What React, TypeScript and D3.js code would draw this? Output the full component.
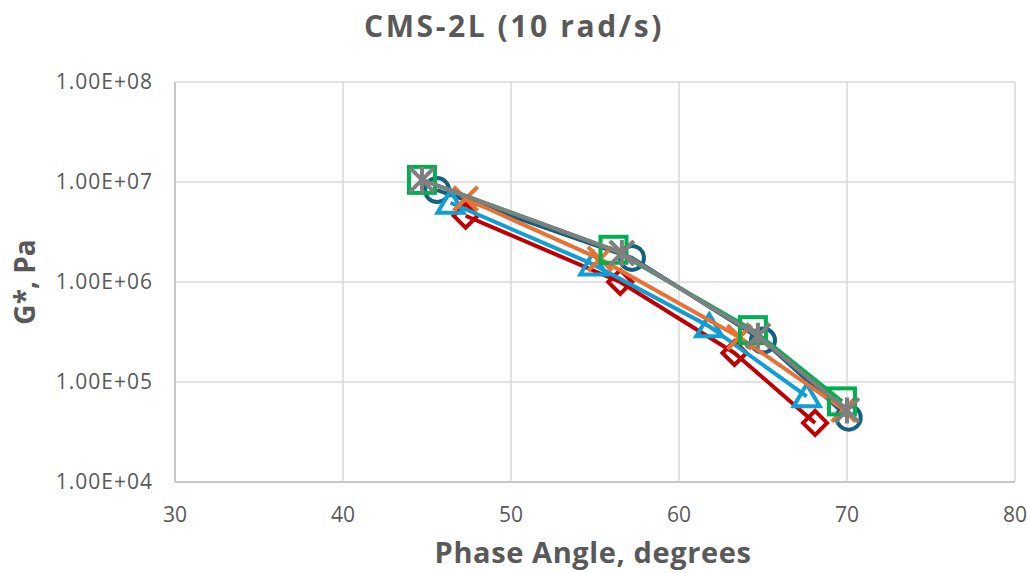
import React from "react";
import * as d3 from "d3";

const xTicks = [30, 40, 50, 60, 70, 80];
const yTicks = [1e4, 1e5, 1e6, 1e7, 1e8];
const yTickLabels = ["1.00E+04", "1.00E+05", "1.00E+06", "1.00E+07", "1.00E+08"];

const circleX = [45.6, 57.2, 65.0, 70.1];
const circleY = [8.3e6, 1.74e6, 2.6e5, 4.4e4];
const diamondX = [47.3, 56.5, 63.3, 68.1];
const diamondY = [4.6e6, 1.0e6, 1.95e5, 3.9e4];
const triangleX = [46.4, 54.9, 61.8, 67.6];
const triangleY = [6.2e6, 1.5e6, 3.6e5, 7.2e4];
const crossX = [47.3, 55.3, 63.6, 69.8];
const crossY = [6.8e6, 1.7e6, 2.8e5, 5.3e4];
const squareX = [44.7, 56.1, 64.4, 69.7];
const squareY = [1.05e7, 2.1e6, 3.3e5, 6.4e4];
const starX = [44.7, 56.6, 64.7, 70.0];
const starY = [1.05e7, 1.95e6, 2.9e5, 5.2e4];

type Series = { xs: number[]; ys: number[]; color: string; marker: string };
const series: Series[] = [
  { xs: circleX, ys: circleY, color: "#156082", marker: "circle" },
  { xs: diamondX, ys: diamondY, color: "#C00000", marker: "diamond" },
  { xs: triangleX, ys: triangleY, color: "#0F9ED5", marker: "triangle" },
  { xs: crossX, ys: crossY, color: "#E97132", marker: "x" },
  { xs: squareX, ys: squareY, color: "#00B050", marker: "square" },
  { xs: starX, ys: starY, color: "#7F7F7F", marker: "star" },
];

const W = 1027, H = 573;
const left = 175, right = 1015, top = 82, bottom = 482;
const FONT = "'Open Sans', 'Noto Sans', sans-serif";

function Marker({ type, x, y, color }: { type: string; x: number; y: number; color: string }) {
  const sw = 4;
  const common = { fill: "none", stroke: color, strokeWidth: sw };
  if (type === "circle") return <circle cx={x} cy={y} r={12} {...common} />;
  if (type === "square") return <rect x={x - 13} y={y - 13} width={26} height={26} {...common} />;
  if (type === "diamond") return <path d={`M${x},${y - 12}L${x + 12},${y}L${x},${y + 12}L${x - 12},${y}Z`} {...common} strokeLinejoin="miter" />;
  if (type === "triangle") return <path d={`M${x},${y - 12}L${x + 13},${y + 10}L${x - 13},${y + 10}Z`} {...common} strokeLinejoin="miter" />;
  if (type === "x") return <path d={`M${x - 12},${y - 12}L${x + 12},${y + 12}M${x + 12},${y - 12}L${x - 12},${y + 12}`} {...common} />;
  return <path d={`M${x - 12},${y - 12}L${x + 12},${y + 12}M${x + 12},${y - 12}L${x - 12},${y + 12}M${x},${y - 13}L${x},${y + 13}`} {...common} />;
}

export default function App() {
  const x = d3.scaleLinear().domain([30, 80]).range([left, right]);
  const y = d3.scaleLog().domain([1e4, 1e8]).range([bottom, top]);
  const line = d3.line<[number, number]>().x((d) => x(d[0])).y((d) => y(d[1]));
  const grid = "#D9D9D9";
  const txt = "#595959";
  return (
    <svg width={W} height={H} style={{ position: "absolute", left: 0, top: 0, background: "#fff" }}>
      <rect width={W} height={H} fill="#fff" />
      {xTicks.map((t) => (
        <line key={"gx" + t} x1={x(t)} x2={x(t)} y1={top} y2={bottom} stroke={grid} strokeWidth={1.5} />
      ))}
      {yTicks.map((t) => (
        <line key={"gy" + t} x1={left} x2={right} y1={y(t)} y2={y(t)} stroke={grid} strokeWidth={1.5} />
      ))}
      <line x1={left} x2={left} y1={top} y2={bottom} stroke="#BFBFBF" strokeWidth={1.5} />
      <line x1={left} x2={right} y1={bottom} y2={bottom} stroke="#BFBFBF" strokeWidth={1.5} />
      {yTicks.map((t, i) => (
        <text key={"ty" + t} x={153} y={y(t) + 7} textAnchor="end" fontFamily={FONT} fontSize={21} letterSpacing={1} fill={txt}>
          {yTickLabels[i]}
        </text>
      ))}
      {xTicks.map((t) => (
        <text key={"tx" + t} x={x(t)} y={522} textAnchor="middle" fontFamily={FONT} fontSize={21} fill={txt}>
          {t}
        </text>
      ))}
      <text x={514} y={37} textAnchor="middle" fontFamily={FONT} fontWeight="bold" fontSize={30} letterSpacing={2.6} fill={txt}>
        CMS-2L (10 rad/s)
      </text>
      <text x={593} y={563} textAnchor="middle" fontFamily={FONT} fontWeight="bold" fontSize={29} letterSpacing={0.6} fill={txt}>
        Phase Angle, degrees
      </text>
      <text transform="translate(35,282) rotate(-90)" textAnchor="middle" fontFamily={FONT} fontWeight="bold" fontSize={28} fill={txt}>
        G*, Pa
      </text>
      {series.map((s, i) => {
        const pts = s.xs.map((v, j) => [v, s.ys[j]] as [number, number]);
        return (
          <g key={"s" + i}>
            <path d={line(pts) || ""} fill="none" stroke={s.color} strokeWidth={4} strokeLinejoin="round" />
            {pts.map((p, j) => (
              <Marker key={j} type={s.marker} x={x(p[0])} y={y(p[1])} color={s.color} />
            ))}
          </g>
        );
      })}
    </svg>
  );
}
